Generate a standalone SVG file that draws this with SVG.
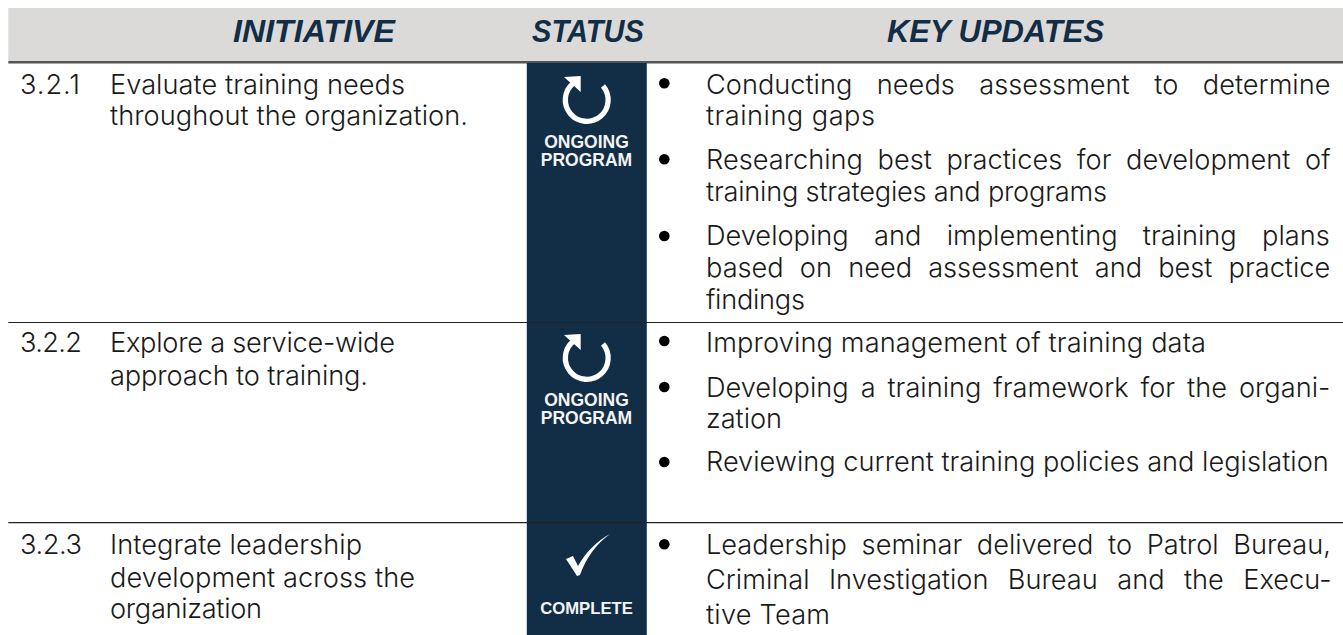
<svg xmlns="http://www.w3.org/2000/svg" width="1343" height="635" viewBox="0 0 1343 635">
<style>
.t{font-family:Inter,"Liberation Sans",Arial,sans-serif;font-weight:300;font-size:27.200px;fill:#1a1a1a}
.h{font-family:"Liberation Sans",Arial,sans-serif;font-size:31px;font-weight:700;font-style:italic;fill:#122e47}
.s{font-family:"Liberation Sans",Arial,sans-serif;font-size:17.500px;font-weight:700;fill:#f4f4f4;text-anchor:middle}
.b{fill:#000}
.r{fill:none;stroke:#fff;stroke-width:5.300}
</style>
<rect width="1343" height="635" fill="#fff"/>
<g id="header">
<rect x="8.300" y="8" width="1334.700" height="53" fill="#dbdad9"/>
<rect x="8.300" y="61" width="1334.700" height="2.500" fill="#555"/>
<text class="h" x="233" y="42" textLength="162" lengthAdjust="spacingAndGlyphs">INITIATIVE</text>
<text class="h" x="532" y="42" textLength="112" lengthAdjust="spacingAndGlyphs">STATUS</text>
<text class="h" x="887" y="42" textLength="217" lengthAdjust="spacingAndGlyphs">KEY UPDATES</text>
</g>
<g id="status-column">
<rect x="526.800" y="63" width="120" height="572" fill="#122e47"/>
</g>
<g id="connectors">
<line x1="8.300" y1="322.500" x2="1343" y2="322.500" stroke="#222" stroke-width="1.200"/>
<line x1="8.300" y1="522.700" x2="1343" y2="522.700" stroke="#222" stroke-width="1.200"/>
</g>
<g id="row-1">
<text class="t" x="20" y="94" textLength="60">3.2.1</text>
<text class="t" x="110" y="94" textLength="295">Evaluate training needs</text>
<text class="t" x="110" y="125" textLength="358">throughout the organization.</text>
<path class="r" d="M603 86A21.400 21.400 0 1 1 573 83.500"/>
<path d="M564 77L580.700 76L580.700 92Z" fill="#fff"/>
<text class="s"><tspan x="586.500" y="148">ONGOING</tspan><tspan x="586.500" y="166">PROGRAM</tspan></text>
<circle class="b" cx="664.300" cy="83.300" r="5.300"/>
<text class="t" x="706" y="94" word-spacing="16.900">Conducting needs assessment to determine</text>
<text class="t" x="706" y="125" textLength="169">training gaps</text>
<circle class="b" cx="664.300" cy="159.300" r="5.300"/>
<text class="t" x="706" y="169" word-spacing="7">Researching best practices for development of</text>
<text class="t" x="706" y="201" textLength="401">training strategies and programs</text>
<circle class="b" cx="664.300" cy="236" r="5.300"/>
<text class="t" x="706" y="245" word-spacing="17.700">Developing and implementing training plans</text>
<text class="t" x="706" y="277" word-spacing="8.500">based on need assessment and best practice</text>
<text class="t" x="706" y="309" textLength="99">findings</text>
</g>
<g id="row-2">
<text class="t" x="20" y="352" textLength="62">3.2.2</text>
<text class="t" x="110" y="352" textLength="285">Explore a service-wide</text>
<text class="t" x="110" y="385" textLength="258">approach to training.</text>
<path class="r" d="M603 344A21.400 21.400 0 1 1 573 341.500"/>
<path d="M564 335L580.700 334L580.700 350Z" fill="#fff"/>
<text class="s"><tspan x="586.500" y="406">ONGOING</tspan><tspan x="586.500" y="424">PROGRAM</tspan></text>
<circle class="b" cx="664.300" cy="341" r="5.300"/>
<text class="t" x="706" y="352" textLength="500">Improving management of training data</text>
<circle class="b" cx="664.300" cy="387" r="5.300"/>
<text class="t" x="706" y="397" word-spacing="4.300">Developing a training framework for the organi-</text>
<text class="t" x="706" y="428" textLength="76">zation</text>
<circle class="b" cx="664.300" cy="462" r="5.300"/>
<text class="t" x="706" y="471">Reviewing current training policies and legislation</text>
</g>
<g id="row-3">
<text class="t" x="20" y="554" textLength="62">3.2.3</text>
<text class="t" x="110" y="554" textLength="252">Integrate leadership</text>
<text class="t" x="110" y="587" textLength="305">development across the</text>
<text class="t" x="110" y="618" textLength="152">organization</text>
<path d="M566 559L573 556L578 566C586 552 597 541 610 534C596 544 586 558 580 575L577 576Z" fill="#fff"/>
<text class="s" style="font-size:16.700px" x="586.500" y="613.500">COMPLETE</text>
<circle class="b" cx="664.300" cy="544.300" r="5.300"/>
<text class="t" x="706" y="554" word-spacing="7">Leadership seminar delivered to Patrol Bureau,</text>
<text class="t" x="706" y="589" word-spacing="11.800">Criminal Investigation Bureau and the Execu-</text>
<text class="t" x="706" y="624" textLength="124">tive Team</text>
</g>
</svg>
